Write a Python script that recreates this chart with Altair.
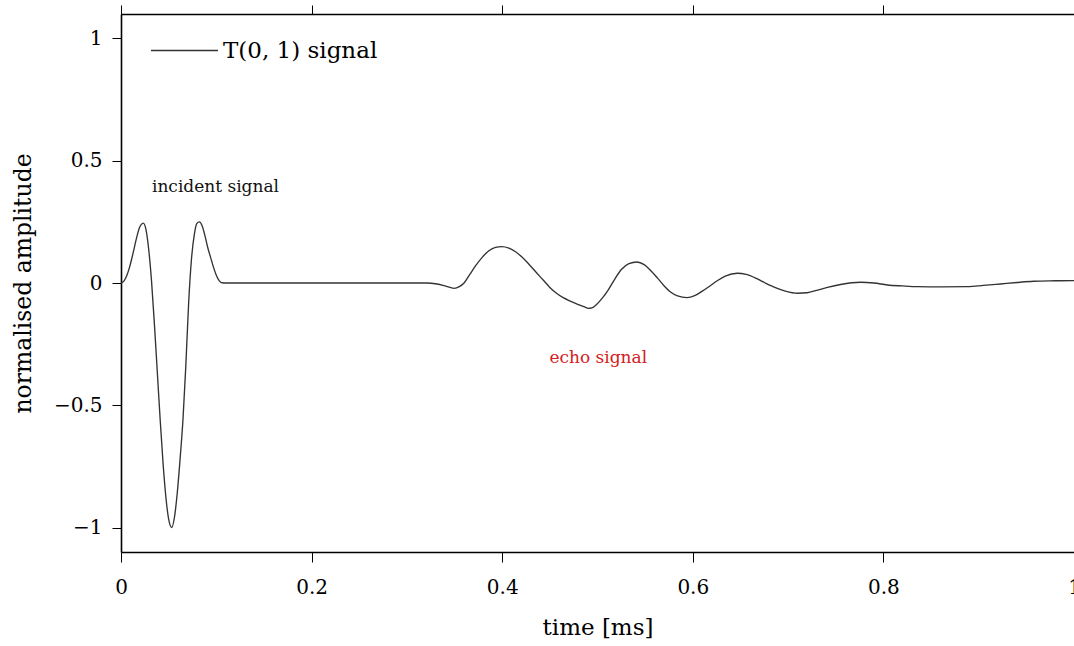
import altair as alt
import pandas as pd

# time [ms]
t_vals = [0, 0.003, 0.006, 0.009, 0.0112, 0.014, 0.017, 0.020, 0.0234,
          0.026, 0.029, 0.032, 0.035, 0.038, 0.041, 0.044, 0.047, 0.050, 0.0532,
          0.056, 0.059, 0.062, 0.065, 0.068, 0.071, 0.074, 0.077, 0.0795, 0.0822,
          0.085, 0.088, 0.091, 0.094, 0.097, 0.100, 0.103, 0.106, 0.11,
          0.2, 0.3, 0.321, 0.33, 0.34, 0.3496, 0.355, 0.36, 0.366, 0.372, 0.379,
          0.386, 0.393, 0.3997, 0.407, 0.414, 0.421, 0.428, 0.436, 0.443, 0.450,
          0.457, 0.464, 0.472, 0.480, 0.487, 0.4903, 0.494, 0.499, 0.505, 0.511,
          0.518, 0.525, 0.533, 0.5414, 0.549, 0.556, 0.563, 0.570, 0.577, 0.584,
          0.5939, 0.602, 0.610, 0.618, 0.626, 0.634, 0.6467, 0.656, 0.666, 0.676,
          0.686, 0.697, 0.7097, 0.72, 0.73, 0.7412, 0.755, 0.7759, 0.79, 0.8042,
          0.82, 0.8357, 0.86, 0.8882, 0.905, 0.9228, 0.94, 0.9575, 0.98, 1.0]
# normalised amplitude
amp_vals = [0, 0.008, 0.03, 0.065, 0.098, 0.145, 0.195, 0.232, 0.245,
            0.222, 0.14, 0.01, -0.165, -0.358, -0.552, -0.73, -0.872, -0.966, -1.0,
            -0.96, -0.86, -0.72, -0.56, -0.34, -0.08, 0.10, 0.20, 0.243, 0.25,
            0.235, 0.195, 0.145, 0.105, 0.065, 0.032, 0.01, 0.001, 0,
            0, 0, 0, -0.003, -0.012, -0.022, -0.015, 0.0, 0.035, 0.07, 0.105,
            0.132, 0.146, 0.149, 0.143, 0.128, 0.105, 0.077, 0.042, 0.012, -0.018,
            -0.042, -0.06, -0.075, -0.088, -0.099, -0.104, -0.102, -0.088, -0.062, -0.03,
            0.015, 0.055, 0.079, 0.086, 0.075, 0.05, 0.02, -0.012, -0.038, -0.053,
            -0.06, -0.052, -0.033, -0.012, 0.01, 0.028, 0.04, 0.035, 0.02, 0.0,
            -0.018, -0.033, -0.042, -0.04, -0.03, -0.018, -0.006, 0.003, 0.0, -0.008,
            -0.012, -0.015, -0.016, -0.015, -0.01, -0.004, 0.002, 0.007, 0.009, 0.01]

series_name = "T(0, 1) signal"

x_ticks = [0, 0.2, 0.4, 0.6, 0.8, 1]
y_ticks = [-1, -0.5, 0, 0.5, 1]

inc_text = ["incident signal"]
inc_t = [0.0325]
inc_amp = [0.372]
echo_text = ["echo signal"]
echo_t = [0.5008]
echo_amp = [-0.327]

FONT = "DejaVu Serif"

df = pd.DataFrame({"t": t_vals, "amp": amp_vals, "series": series_name})
inc = pd.DataFrame({"t": inc_t, "amp": inc_amp, "label": inc_text})
echo = pd.DataFrame({"t": echo_t, "amp": echo_amp, "label": echo_text})

xscale = alt.Scale(domain=[0, 1], nice=False, zero=False)
yscale = alt.Scale(domain=[-1.1, 1.1], nice=False, zero=False)

line = alt.Chart(df).mark_line(strokeWidth=1.35, interpolate="monotone").encode(
    x=alt.X("t:Q", scale=xscale, title="time [ms]",
            axis=alt.Axis(values=x_ticks, format="~g", grid=False, tickSize=10,
                          tickColor="black", tickWidth=1,
                          labelPadding=15, titlePadding=19, domainColor="black",
                          domainWidth=1.6, labelFontSize=20, titleFontSize=23,
                          labelFont=FONT, titleFont=FONT, titleFontWeight="normal",
                          labelColor="black", titleColor="black", labelFlush=False)),
    y=alt.Y("amp:Q", scale=yscale, title="normalised amplitude",
            axis=alt.Axis(values=y_ticks, grid=False, tickSize=9, tickColor="black",
                          tickWidth=1, domainColor="black", domainWidth=1.6,
                          labelExpr="replace(format(datum.value, '~g'), '-', '\u2212')",
                          labelPadding=10, titlePadding=18, labelFontSize=20,
                          titleFontSize=23.5, labelFont=FONT, titleFont=FONT,
                          titleFontWeight="normal", labelColor="black",
                          titleColor="black")),
    color=alt.Color("series:N",
                    scale=alt.Scale(domain=[series_name], range=["#333333"]),
                    legend=alt.Legend(orient="none", legendX=29, legendY=2,
                                      title=None, symbolType="stroke",
                                      symbolSize=4489, symbolStrokeWidth=1.3,
                                      labelFontSize=23, labelFont=FONT,
                                      labelColor="black", labelOffset=4,
                                      padding=0)),
)

top = alt.Chart(df).mark_line(opacity=0).encode(
    x=alt.X("t:Q", scale=xscale,
            axis=alt.Axis(orient="top", values=x_ticks, labels=False, title=None,
                          grid=False, tickSize=9, tickColor="black", tickWidth=1,
                          domainColor="black", domainWidth=1.6)),
    y=alt.Y("amp:Q", scale=yscale),
)

inc_mark = alt.Chart(inc).mark_text(fontSize=17, font=FONT, baseline="alphabetic",
                                    align="left", color="#111111").encode(
    x=alt.X("t:Q", scale=xscale, axis=None),
    y=alt.Y("amp:Q", scale=yscale),
    text="label:N",
)

echo_mark = alt.Chart(echo).mark_text(fontSize=17, font=FONT, baseline="alphabetic",
                                      align="center", color="#d42020").encode(
    x=alt.X("t:Q", scale=xscale, axis=None),
    y=alt.Y("amp:Q", scale=yscale),
    text="label:N",
)

chart = alt.layer(line, top, inc_mark, echo_mark).resolve_axis(x="independent").properties(
    width=953, height=538,
    padding={"left": 121, "top": 14, "right": 0, "bottom": 94},
    autosize=alt.AutoSizeParams(type="none"),
).configure_view(stroke=None)

chart.save("out.html", embed_options={"renderer": "svg", "actions": False})
